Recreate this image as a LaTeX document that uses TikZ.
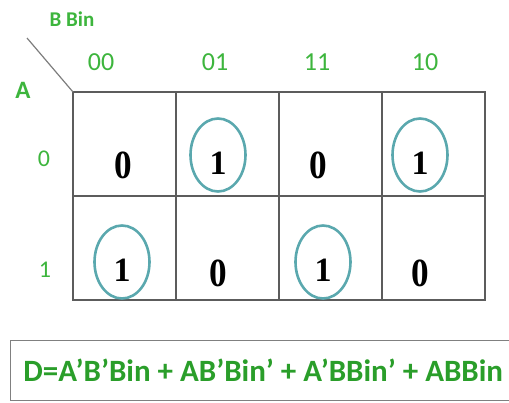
\documentclass[tikz,border=0pt]{standalone}
\usepackage{fontspec}
\setsansfont{Carlito}
\newfontfamily\bitfont{Liberation Serif}
\usetikzlibrary{positioning,shapes.geometric,calc}
\definecolor{kgreen}{HTML}{3DB53D}
\definecolor{fgreen}{HTML}{2A9E2A}
\definecolor{kteal}{HTML}{5AA8AE}
\definecolor{kgrid}{HTML}{5C5C5C}
\definecolor{kbox}{HTML}{808080}
\tikzset{
  cell/.style={draw=kgrid, line width=1.4pt, minimum width=103pt, minimum height=104pt, inner sep=0pt, outer sep=0pt},
  head/.style={font=\sffamily\fontsize{26}{26}\selectfont, text=kgreen, inner sep=0pt},
  rowhead/.style={head, font=\sffamily\fontsize{24}{24}\selectfont},
  var/.style={font=\sffamily\bfseries\fontsize{21}{21}\selectfont, text=kgreen, inner sep=0pt},
  one/.style={font=\bitfont\bfseries\fontsize{34}{34}\selectfont, inner sep=0pt},
  zero/.style={font=\bitfont\bfseries\fontsize{40}{40}\selectfont, xscale=.88, inner sep=0pt},
  loop/.style={ellipse, draw=kteal, line width=2.6pt, minimum width=55pt, minimum height=73pt, inner sep=0pt},
  formula/.style={draw=kbox, line width=1.2pt, minimum width=505pt, minimum height=60pt, inner sep=0pt, font=\sffamily\bfseries\fontsize{31}{31}\selectfont, text=fgreen}
}
\begin{document}
\begin{tikzpicture}[x=1pt, y=-1pt, node distance=0pt]
\useasboundingbox (0,0) rectangle (509,402);
\node[cell, anchor=north west] (c000) at (73,92) {};
\node[cell, right=of c000] (c001) {};
\node[cell, right=of c001] (c011) {};
\node[cell, right=of c011] (c010) {};
\node[cell, below=of c000] (c100) {};
\node[cell, right=of c100] (c101) {};
\node[cell, right=of c101] (c111) {};
\node[cell, right=of c111] (c110) {};
\node[head] (h00) at (101,62) {00};
\node[head] (h01) at (215,62) {01};
\node[head] (h11) at (317,62) {11};
\node[head] (h10) at (425,62) {10};
\node[rowhead] (r0) at (44,159) {0};
\node[rowhead] (r1) at (45,270) {1};
\node[var] (vbc) at (72,19) {B Bin};
\node[var, font=\sffamily\bfseries\fontsize{25}{25}\selectfont] (va) at (23,90) {A};
\coordinate (corner) at (27,38);
\draw[kgrid!80, line width=1.2pt] (corner) -- (c000.north west);
\node[zero] (v000) at (123,165) {0};
\node[one] (v001) at (218,163) {1};
\node[zero] (v011) at (318,165) {0};
\node[one] (v010) at (420,163) {1};
\node[one] (v100) at (122,270) {1};
\node[zero] (v101) at (218,273) {0};
\node[one] (v111) at (323,270) {1};
\node[zero] (v110) at (420,273) {0};
\node[loop] (l001) at (218,155) {};
\node[loop] (l010) at (420,155) {};
\node[loop] (l100) at (122,262) {};
\node[loop] (l111) at (323,262) {};
\node[formula, anchor=north west] (eq) at (10,340) {D=A’B’Bin + AB’Bin’ + A’BBin’ + ABBin};
\end{tikzpicture}
\end{document}
